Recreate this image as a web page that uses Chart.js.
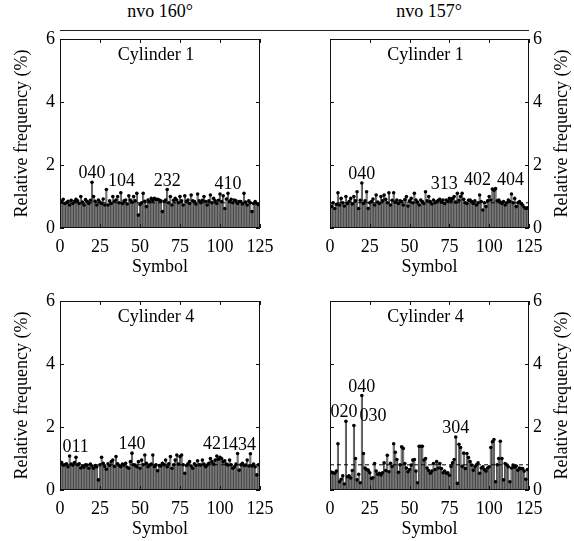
<!DOCTYPE html>
<html>
<head>
<meta charset="utf-8">
<script src="https://cdn.jsdelivr.net/npm/chart.js"></script>
<style>
  body { margin: 0; background: #fff; }
  #wrap { position: relative; width: 574px; height: 541px; font-family: "Liberation Serif", serif; }
  .panel { position: absolute; }
  .head { position: absolute; top: 1px; font-size: 18px; transform: translateX(-50%); white-space: nowrap; }
  #rule { position: absolute; left: 60px; top: 30px; width: 469px; border-top: 1px solid #222; }
</style>
</head>
<body>
<div id="wrap">
  <div class="head" style="left:160px">nvo 160°</div>
  <div class="head" style="left:429px">nvo 157°</div>
  <div id="rule"></div>
  <div class="panel" style="left:0;top:0;width:287px;height:290px"><canvas id="c1a"></canvas></div>
  <div class="panel" style="left:287px;top:0;width:287px;height:290px"><canvas id="c1b"></canvas></div>
  <div class="panel" style="left:0;top:270px;width:287px;height:271px"><canvas id="c4a"></canvas></div>
  <div class="panel" style="left:287px;top:270px;width:287px;height:271px"><canvas id="c4b"></canvas></div>
</div>
<script>
// symbols 000..444 (base 5) -> index 0..124
const symbolTicks = [0, 25, 50, 75, 100, 125];
const freqTicks = [0, 2, 4, 6];
const uniformLevel = 0.8; // 1/125 in %

// Cylinder 1, nvo 160
const cyl1Nvo160 = [
  0.87, 0.82, 0.91, 0.78, 0.80, 0.85, 0.73, 0.88, 0.78, 0.84,
  0.91, 0.86, 0.78, 1.00, 0.82, 0.73, 0.90, 0.84, 0.78, 0.88,
  1.45, 1.00, 0.85, 0.73, 0.89, 0.82, 0.78, 0.92, 0.73, 1.22,
  0.73, 0.86, 0.78, 1.00, 0.84, 0.89, 1.00, 0.80, 1.12, 0.78,
  0.86, 0.89, 0.76, 1.02, 0.89, 0.82, 1.00, 0.86, 1.10, 0.41,
  0.75, 0.80, 1.10, 0.85, 0.68, 0.89, 0.83, 0.94, 0.87, 0.94,
  0.91, 0.91, 0.89, 0.86, 0.52, 0.84, 0.89, 1.22, 0.80, 1.00,
  0.73, 0.88, 0.94, 0.89, 0.80, 1.00, 0.86, 0.73, 1.02, 0.84,
  0.89, 0.78, 1.05, 0.86, 0.84, 0.76, 1.08, 0.86, 0.80, 0.88,
  1.00, 0.84, 0.73, 0.86, 1.05, 0.80, 0.94, 0.86, 0.78, 0.88,
  1.08, 0.84, 1.02, 0.62, 0.92, 1.10, 0.84, 0.91, 0.80, 0.89,
  0.86, 0.78, 0.84, 0.84, 0.76, 1.10, 0.82, 0.73, 0.86, 0.80,
  0.52, 0.78, 0.84, 0.78, 0.74
];
const cyl1Nvo160Peaks = [20, 29, 67, 105];
const cyl1Nvo160Labels = ["040", "104", "232", "410"];

// Cylinder 1, nvo 157
const cyl1Nvo157 = [
  0.78, 0.68, 0.80, 0.62, 0.75, 1.12, 0.73, 0.94, 0.80, 0.70,
  1.00, 0.78, 0.84, 0.94, 0.76, 1.00, 0.86, 1.15, 0.62, 0.88,
  1.43, 0.78, 0.86, 1.15, 0.62, 0.80, 0.84, 0.92, 0.73, 1.05,
  0.82, 0.78, 1.00, 0.86, 1.05, 0.91, 0.80, 1.12, 0.73, 0.88,
  1.12, 0.82, 0.89, 0.78, 0.86, 0.84, 0.73, 0.90, 1.00, 0.70,
  0.86, 0.94, 0.80, 1.10, 0.89, 0.82, 0.73, 0.89, 0.84, 0.78,
  1.15, 0.86, 1.00, 0.84, 0.76, 0.89, 0.80, 0.84, 0.88, 0.91,
  0.82, 0.89, 0.78, 0.89, 0.84, 0.94, 0.86, 0.94, 1.00, 0.82,
  1.10, 0.88, 1.00, 1.10, 0.91, 0.80, 0.78, 0.88, 0.89, 0.84,
  0.78, 0.86, 0.73, 0.80, 1.05, 0.84, 0.57, 0.80, 0.68, 0.86,
  1.00, 0.89, 1.24, 1.20, 1.25, 0.86, 0.89, 0.82, 0.78, 0.84,
  0.73, 0.80, 0.89, 0.84, 1.08, 0.80, 0.94, 0.68, 0.80, 0.84,
  0.78, 0.73, 0.66, 0.62, 0.64
];
const cyl1Nvo157Peaks = [20, 83, 102, 104];
const cyl1Nvo157Labels = ["040", "313", "402", "404"];

// Cylinder 4, nvo 160
const cyl4Nvo160 = [
  0.85, 0.87, 0.79, 0.80, 0.83, 0.74, 1.08, 0.82, 0.79, 0.87,
  1.04, 0.80, 0.83, 0.70, 0.76, 0.72, 0.80, 0.79, 0.69, 0.82,
  0.76, 0.69, 0.78, 0.74, 0.32, 0.80, 1.04, 0.85, 0.75, 0.66,
  0.83, 0.78, 0.90, 0.95, 0.75, 1.06, 0.83, 0.78, 0.74, 0.82,
  0.79, 0.85, 0.72, 0.69, 0.90, 1.17, 0.80, 0.79, 0.74, 0.90,
  0.69, 0.95, 0.80, 1.11, 0.85, 0.74, 0.79, 0.82, 1.11, 0.74,
  0.80, 0.61, 0.78, 0.76, 0.85, 0.80, 0.95, 0.74, 0.83, 1.06,
  0.69, 0.80, 0.95, 1.11, 0.82, 1.06, 1.11, 0.80, 0.53, 0.78,
  0.83, 0.90, 0.76, 0.69, 0.83, 0.78, 0.93, 0.80, 0.79, 0.95,
  0.82, 0.74, 0.79, 0.85, 1.00, 0.90, 0.82, 0.95, 1.08, 0.98,
  1.04, 1.00, 0.90, 0.93, 0.82, 0.79, 0.95, 0.80, 0.69, 0.74,
  0.82, 1.16, 0.63, 0.80, 0.85, 0.78, 0.79, 0.95, 0.76, 1.15,
  0.76, 0.82, 0.74, 0.48, 0.80
];
const cyl4Nvo160Peaks = [6, 45, 111, 119];
const cyl4Nvo160Labels = ["011", "140", "421", "434"];

// Cylinder 4, nvo 157
const cyl4Nvo157 = [
  0.58, 0.56, 0.55, 0.53, 0.60, 1.47, 0.26, 0.34, 0.45, 0.19,
  2.18, 0.42, 0.45, 0.38, 0.62, 2.05, 1.00, 0.32, 0.50, 0.23,
  3.00, 1.16, 0.70, 0.65, 0.63, 0.55, 0.37, 0.39, 0.84, 0.60,
  0.50, 0.53, 0.48, 0.55, 0.86, 0.62, 1.10, 0.58, 0.85, 0.75,
  1.47, 1.20, 0.97, 0.56, 0.80, 1.37, 1.32, 0.84, 0.70, 0.58,
  0.65, 0.79, 0.95, 0.97, 0.60, 0.23, 1.39, 1.39, 1.39, 0.95,
  1.00, 0.70, 0.62, 0.53, 0.60, 0.84, 0.65, 0.90, 0.70, 0.84,
  0.68, 0.55, 0.60, 0.53, 0.55, 0.47, 0.75, 0.86, 0.97, 1.68,
  0.21, 1.45, 1.35, 0.75, 1.17, 0.68, 1.16, 1.03, 0.90, 0.79,
  0.63, 0.74, 0.80, 0.86, 0.53, 0.70, 0.74, 0.65, 0.60, 0.70,
  0.74, 1.35, 1.53, 1.60, 0.26, 0.80, 1.00, 1.55, 1.00, 0.32,
  0.84, 0.80, 0.74, 0.26, 0.70, 0.79, 0.72, 0.76, 0.63, 0.70,
  0.68, 0.68, 0.60, 0.34, 0.65
];
const cyl4Nvo157Peaks = [10, 15, 20, 79];
const cyl4Nvo157Labels = ["020", "030", "040", "304"];

const serif = "Liberation Serif";

// frame, inward ticks, titles and peak labels
const framePlugin = {
  id: "frame",
  afterDraw(chart, args, o) {
    const { ctx, chartArea: a, scales: { x, y } } = chart;
    ctx.save();
    ctx.strokeStyle = "#111";
    ctx.lineWidth = 1;
    ctx.strokeRect(a.left + 0.5, a.top + 0.5, a.right - a.left - 1, a.bottom - a.top - 1);
    ctx.beginPath();
    x.ticks.forEach(t => {
      const px = Math.round(x.getPixelForValue(t.value)) + 0.5;
      ctx.moveTo(px, a.bottom); ctx.lineTo(px, a.bottom - 4);
      ctx.moveTo(px, a.top); ctx.lineTo(px, a.top + 4);
    });
    y.ticks.forEach(t => {
      const py = Math.round(y.getPixelForValue(t.value)) + 0.5;
      ctx.moveTo(a.left, py); ctx.lineTo(a.left + 4, py);
      ctx.moveTo(a.right, py); ctx.lineTo(a.right - 4, py);
    });
    ctx.stroke();

    ctx.fillStyle = "#000";
    ctx.font = "18px '" + serif + "'";
    ctx.textAlign = "center";
    ctx.textBaseline = "middle";
    const cx = (a.left + a.right) / 2;
    ctx.fillText(o.title, cx - 4, a.top + 16);
    ctx.fillText("Symbol", cx, a.bottom + 39);
    ctx.save();
    ctx.translate(o.side === "left" ? a.left - 38 : a.right + 33, (a.top + a.bottom) / 2);
    ctx.rotate(-Math.PI / 2);
    ctx.fillText("Relative frequency (%)", 0, 0);
    ctx.restore();

    ctx.textBaseline = "alphabetic";
    o.peaks.forEach((s, i) => {
      const px = x.getPixelForValue(s) + o.shift[i];
      const py = y.getPixelForValue(o.values[s]) - 4;
      ctx.fillText(o.labels[i], px, py);
    });
    ctx.restore();
  }
};

function createPanel(id, title, values, peaks, labels, side, pad, shift) {
  const pts = values.map((v, i) => ({ x: i, y: v }));
  return new Chart(document.getElementById(id), {
    type: "bar",
    data: {
      datasets: [
        { type: "line", data: pts, showLine: false, pointRadius: 1.8, pointBackgroundColor: "#000", pointBorderWidth: 0, order: 0 },
        { type: "line", data: [{ x: 0, y: uniformLevel }, { x: 125, y: uniformLevel }], borderColor: "#000", borderWidth: 1, borderDash: [4, 3], pointRadius: 0, order: 1 },
        { data: pts, backgroundColor: "#7c7c7c", borderColor: "#333", borderWidth: 0.6, barPercentage: 1, categoryPercentage: 1, order: 2 }
      ]
    },
    options: {
      responsive: true,
      maintainAspectRatio: false,
      animation: false,
      layout: { padding: pad },
      plugins: {
        legend: { display: false },
        tooltip: { enabled: false },
        frame: { title: title, side: side, values: values, peaks: peaks, labels: labels, shift: shift }
      },
      scales: {
        x: {
          type: "linear", min: 0, max: 125, offset: false,
          grid: { display: false, drawTicks: false, offset: false }, border: { display: false },
          afterBuildTicks: s => { s.ticks = symbolTicks.map(v => ({ value: v })); },
          ticks: { color: "#000", font: { family: serif, size: 18 }, padding: 8, maxRotation: 0, autoSkip: false },
          afterFit: s => { s.height = 42; }
        },
        y: {
          position: side, min: 0, max: 6,
          grid: { display: false, drawTicks: false }, border: { display: false },
          afterBuildTicks: s => { s.ticks = freqTicks.map(v => ({ value: v })); },
          ticks: { color: "#000", font: { family: serif, size: 18 }, padding: side === "left" ? 5 : 4 },
          afterFit: s => { s.width = side === "left" ? 60 : 45; }
        }
      }
    },
    plugins: [framePlugin]
  });
}

createPanel("c1a", "Cylinder 1", cyl1Nvo160, cyl1Nvo160Peaks, cyl1Nvo160Labels, "left",
  { left: 0, top: 39, right: 27, bottom: 20 }, [0, 15, 0, 0]);
createPanel("c1b", "Cylinder 1", cyl1Nvo157, cyl1Nvo157Peaks, cyl1Nvo157Labels, "right",
  { left: 43, top: 39, right: 0, bottom: 20 }, [0, -18, -15, 15]);
createPanel("c4a", "Cylinder 4", cyl4Nvo160, cyl4Nvo160Peaks, cyl4Nvo160Labels, "left",
  { left: 0, top: 31, right: 27, bottom: 9 }, [6, 0, -21, -8]);
createPanel("c4b", "Cylinder 4", cyl4Nvo157, cyl4Nvo157Peaks, cyl4Nvo157Labels, "right",
  { left: 43, top: 31, right: 0, bottom: 9 }, [-2, 19, 0, 0]);
</script>
</body>
</html>
